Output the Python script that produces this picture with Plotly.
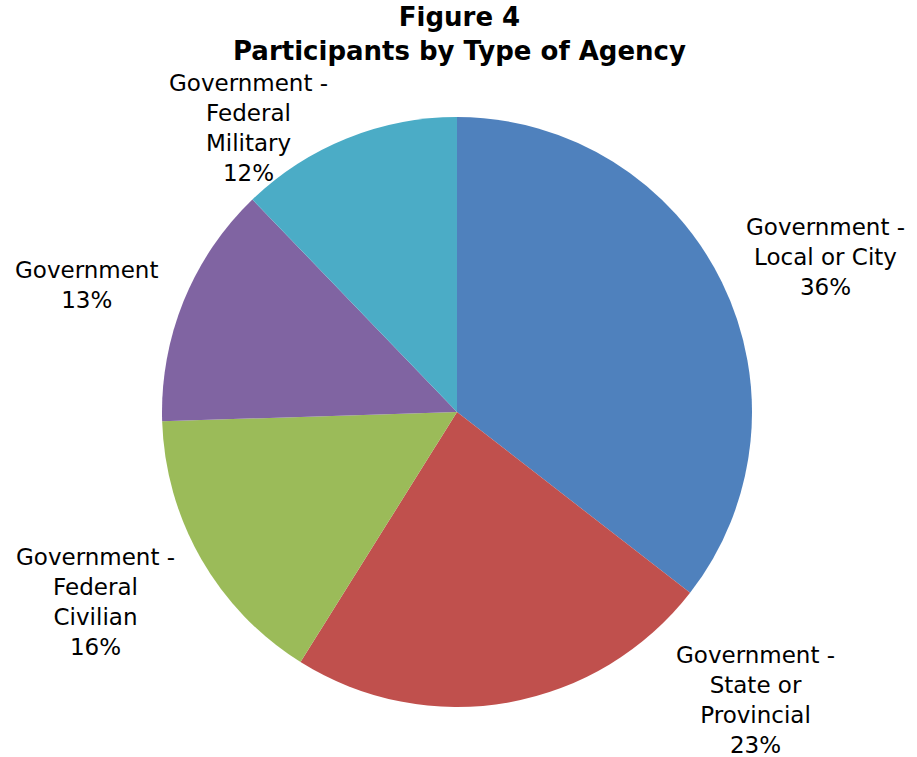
import plotly.graph_objects as go

categories = ["Government - Local or City", "Government - State or Provincial",
              "Government - Federal Civilian", "Government", "Government - Federal Military"]
values = [35.5, 23.4, 15.6, 13.3, 12.2]
percent_labels = ["36%", "23%", "16%", "13%", "12%"]
label_lines = ["Government -<br>Local or City",
               "Government -<br>State or<br>Provincial",
               "Government -<br>Federal<br>Civilian",
               "Government",
               "Government -<br>Federal<br>Military"]
colors = ["#4F81BD", "#C0504D", "#9BBB59", "#8064A2", "#4BACC6"]

W, H = 917, 757
# label centre positions in pixels
label_pos = [(825, 257), (755, 700), (95, 602), (86, 285), (248, 128)]

fig = go.Figure(go.Pie(
    labels=categories, values=values, sort=False, direction="clockwise",
    rotation=0, marker=dict(colors=colors, line=dict(width=0)),
    textinfo="none", hoverinfo="label+percent", showlegend=False,
    domain=dict(x=[162/W, 752/W], y=[1-707/H, 1-117/H]),
))

font = "Verdana, DejaVu Sans, sans-serif"
for txt, pct, (px, py) in zip(label_lines, percent_labels, label_pos):
    fig.add_annotation(x=px/W, y=1-py/H, xref="paper", yref="paper",
                       text=txt + "<br>" + pct, showarrow=False,
                       xanchor="center", yanchor="middle",
                       font=dict(family=font, size=23, color="#000000"))

fig.add_annotation(x=459/W, y=1-34/H, xref="paper", yref="paper",
                   text="<b>Figure 4</b><br><b>Participants by Type of Agency</b>",
                   showarrow=False, xanchor="center", yanchor="middle",
                   font=dict(family=font, size=26, color="#000000"))

fig.update_layout(width=W, height=H, margin=dict(l=0, r=0, t=0, b=0),
                  paper_bgcolor="white", plot_bgcolor="white")
fig.write_html("out.html")
